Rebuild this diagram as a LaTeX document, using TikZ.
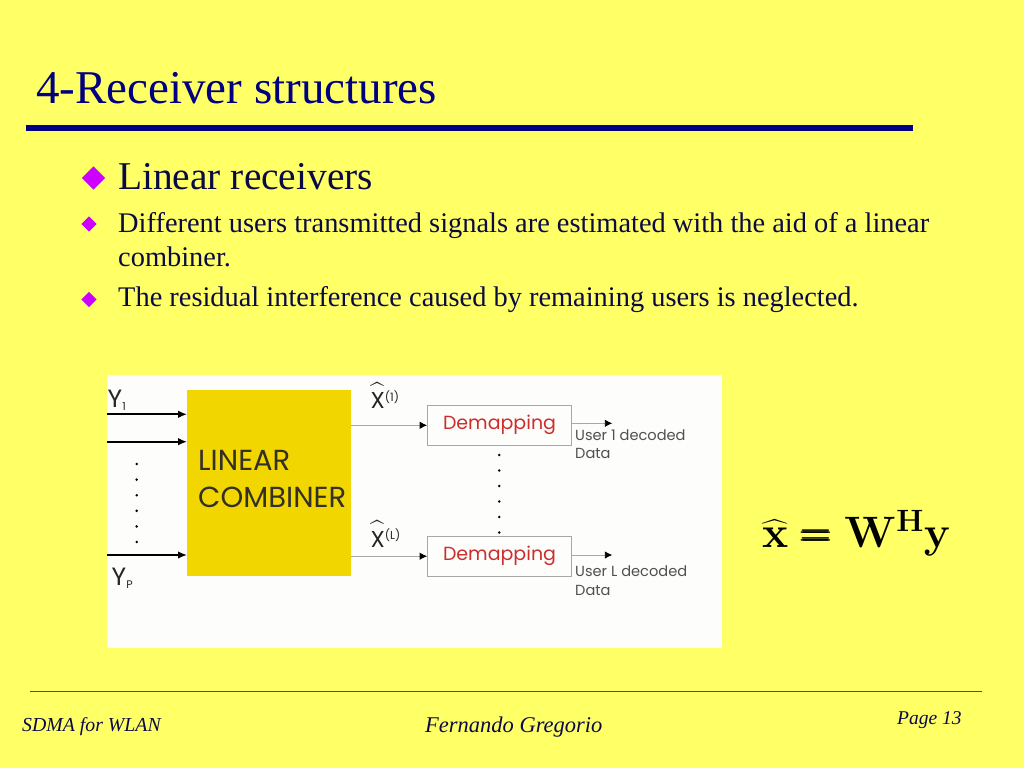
\RequirePackage{fix-cm}
\documentclass[tikz,border=0pt]{standalone}
\usepackage{amsmath}
\usepackage[no-math]{fontspec}
\setmainfont{Liberation Serif}
\newfontfamily\gothic{Poppins}
\usepackage{tikz}
\usetikzlibrary{arrows,arrows.meta,positioning}
\definecolor{slideyellow}{HTML}{FFFF66}
\definecolor{titleblue}{HTML}{000080}
\definecolor{textblue}{HTML}{0A0A45}
\definecolor{bulletviolet}{HTML}{CC00FF}
\definecolor{combgold}{HTML}{F2D600}
\definecolor{demapred}{HTML}{CC2E2E}
\definecolor{wiregray}{HTML}{A8A8A8}
\definecolor{labelgray}{HTML}{505050}
\definecolor{paper}{HTML}{FDFDFB}
\newcommand{\diam}[3]{\fill [bulletviolet] (#1, #2) +(0, -#3) -- +(#3, 0) -- +(0, #3) -- +(-#3, 0) -- cycle;}
\newcommand{\wheq}{$\widehat{\mathbf{x}} \mathrel{\pmb{=}} \mathbf{W}^{\mathbf{H}}\mathbf{y}$}
\newcommand{\xest}[1]{$\widehat{\rule{0pt}{19pt}\mbox{X}}$\raisebox{7.5pt}{\fontsize{11.5}{11.5}\selectfont(#1)}}

\begin{document}
\begin{tikzpicture}[x = 1pt, y = -1pt,
		txt/.style = {inner sep = 0, anchor = base west, text = textblue},
		lbl/.style = {inner sep = 0, anchor = base west, font = \gothic\fontsize{23}{23}\selectfont, text = black!85},
		inwire/.style = {-{Latex[length = 9pt, width = 7.5pt]}, line width = 1.8pt},
		outwire/.style = {-{Latex[length = 7.5pt, width = 7.5pt, black]}, draw = wiregray, line width = .9pt},
		demap/.style = {draw = wiregray, line width = .8pt, minimum width = 144pt, minimum height = 40.5pt, inner sep = 0, text = demapred, font = \gothic\fontsize{19}{19}\selectfont},
		user/.style = {inner sep = 0, anchor = base west, text = labelgray, font = \gothic\fontsize{14.6}{14.6}\selectfont}]
		\useasboundingbox (0, 0) rectangle (1024, 768);
		\fill [slideyellow] (0, 0) rectangle (1024, 768);
		\node [txt, text = titleblue, font = \fontsize{47}{47}\selectfont] (title) at (36, 103.5) {4-Receiver structures};
		\draw [titleblue, line width = 6pt] (26, 128) -- (913, 128);
		\diam{93.5}{178}{11.7}
		\node [txt, font = \fontsize{39.4}{39.4}\selectfont] (head) at (118, 189) {Linear receivers};
		\diam{89}{224}{7.6}
		\node [txt, font = \fontsize{28.4}{28.4}\selectfont] (pt1) at (118, 232.5) {Different users transmitted signals are estimated with the aid of a linear};
		\node [txt, font = \fontsize{28.4}{28.4}\selectfont] (pt1b) at (118, 266.5) {combiner.};
		\diam{89}{299.5}{7.6}
		\node [txt, font = \fontsize{28.4}{28.4}\selectfont] (pt2) at (118, 306.5) {The residual interference caused by remaining users is neglected.};
		\fill [paper] (107, 375) rectangle (722, 648);
		\node [fill = combgold, minimum width = 163.4pt, minimum height = 185.7pt, inner sep = 0] (comb) at (269, 482.9) {};
		\node [lbl, font = \gothic\fontsize{29}{29}\selectfont, text = black!85!olive] (lin) at (198, 470) {LINEAR};
		\node [lbl, font = \gothic\fontsize{29}{29}\selectfont, text = black!85!olive] (combtxt) at (198, 507) {COMBINER};
		\coordinate (in1) at (107, 414.3);
		\coordinate (in2) at (107, 441.7);
		\coordinate (inP) at (107, 555);
		\draw [inwire] (in1) -- (in1 -| comb.west);
		\draw [inwire] (in2) -- (in2 -| comb.west);
		\draw [inwire] (inP) -- (inP -| comb.west);
		\node [lbl, font = \gothic\fontsize{25}{25}\selectfont] (y1) at (107.5, 407.7) {Y\raisebox{-2.5pt}{\fontsize{11}{11}\selectfont 1}};
		\node [lbl, font = \gothic\fontsize{25}{25}\selectfont] (yP) at (111.5, 585) {Y\raisebox{-3pt}{\fontsize{11}{11}\selectfont P}};
		\foreach \k in {0, ..., 5}
			\fill (136.7, 464 + 15.6 * \k) circle [radius = 1.4];
		\node [demap] (dem1) at (499.5, 425.3) {Demapping};
		\node [demap] (demL) at (499.5, 556.2) {Demapping};
		\draw [outwire] (comb.east |- dem1.west) -- (dem1.west);
		\draw [outwire] (comb.east |- demL.west) -- (demL.west);
		\node [lbl] (xh1) at (370.5, 408.5) {\xest{1}};
		\node [lbl] (xhL) at (370.5, 547) {\xest{L}};
		\coordinate (usr1) at (612.3, 423.3);
		\coordinate (usrL) at (612.3, 555);
		\draw [outwire] (dem1.east |- usr1) -- (usr1);
		\draw [outwire] (demL.east |- usrL) -- (usrL);
		\node [user] (u1) at (575, 440.7) {User 1 decoded};
		\node [user] (d1) at (575, 458.3) {Data};
		\node [user] (uL) at (575, 576.7) {User L decoded};
		\node [user] (dL) at (575, 595) {Data};
		\foreach \k in {0, ..., 5}
			\fill (499.3, 455 + 15.5 * \k) circle [radius = 1.4];
		\node [inner sep = 0, anchor = base west, font = \fontsize{44}{44}\selectfont] (formula) at (762, 547) {\wheq};
		\draw [black!70, line width = .8pt] (30, 691) -- (982, 691);
		\node [txt, font = \itshape\fontsize{19.8}{19.8}\selectfont] (foot1) at (22, 731) {SDMA for WLAN};
		\node [txt, font = \itshape\fontsize{22.5}{22.5}\selectfont] (foot2) at (425, 732) {Fernando Gregorio};
		\node [txt, font = \itshape\fontsize{19.5}{19.5}\selectfont] (foot3) at (897, 724) {Page 13};
	\end{tikzpicture}
\end{document}
